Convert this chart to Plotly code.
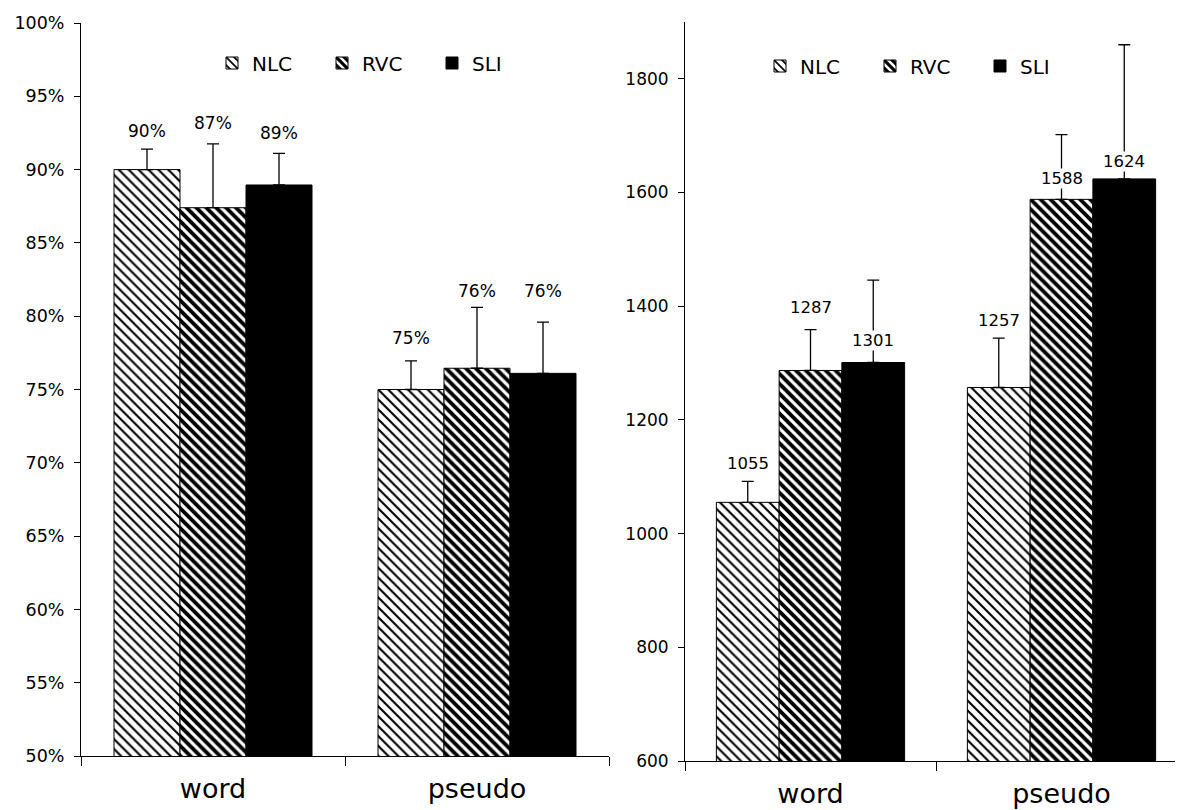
import plotly.graph_objects as go

# ---------------- data ----------------
categories = ["word", "pseudo"]
groups = ["NLC", "RVC", "SLI"]

# accuracy (%)
acc_nlc = [90.0, 75.0]
acc_rvc = [87.4, 76.45]
acc_sli = [88.95, 76.1]
acc_err_nlc = [1.4, 1.95]
acc_err_rvc = [4.35, 4.15]
acc_err_sli = [2.15, 3.5]

# reaction time (ms)
rt_nlc = [1055, 1257]
rt_rvc = [1287, 1588]
rt_sli = [1301, 1624]
rt_err_nlc = [37, 87]
rt_err_rvc = [72, 114]
rt_err_sli = [145, 236]

# label anchor positions (data units) as placed in the original
acc_label_pos = {"NLC": [92.6, 78.5], "RVC": [93.2, 81.7], "SLI": [92.5, 81.7]}
rt_label_pos = {"NLC": [1123, 1375], "RVC": [1398, 1625], "SLI": [1340, 1654]}

# ---------------- styles ----------------
FONT = "DejaVu Sans"
styles = {
    "NLC": dict(shape="\\", size=7, solidity=0.3),
    "RVC": dict(shape="\\", size=7, solidity=0.55),
    "SLI": dict(shape="", size=6, solidity=1.0),
}
fillcol = {"NLC": "white", "RVC": "white", "SLI": "black"}

acc_vals = {"NLC": acc_nlc, "RVC": acc_rvc, "SLI": acc_sli}
acc_errs = {"NLC": acc_err_nlc, "RVC": acc_err_rvc, "SLI": acc_err_sli}
rt_vals = {"NLC": rt_nlc, "RVC": rt_rvc, "SLI": rt_sli}
rt_errs = {"NLC": rt_err_nlc, "RVC": rt_err_rvc, "SLI": rt_err_sli}

fig = go.Figure()


def add_bars(vals, errs, xa, ya, legend):
    for g in groups:
        st = styles[g]
        marker = dict(color=fillcol[g], line=dict(color="black", width=1))
        if st["shape"]:
            marker["pattern"] = dict(shape=st["shape"], size=st["size"], solidity=st["solidity"],
                                     fgcolor="black", bgcolor="white", fgopacity=1,
                                     fillmode="overlay")
        fig.add_trace(go.Bar(
            x=categories, y=vals[g], name=g, marker=marker,
            xaxis=xa, yaxis=ya, legend=legend,
            error_y=dict(type="data", symmetric=False, array=errs[g],
                         arrayminus=[0] * len(errs[g]), color="black",
                         thickness=1.3, width=6),
        ))


add_bars(acc_vals, acc_errs, "x", "y", "legend")
add_bars(rt_vals, rt_errs, "x2", "y2", "legend2")

# value labels
offsets = {"NLC": -1, "RVC": 0, "SLI": 1}
for g in groups:
    for i, c in enumerate(categories):
        fig.add_annotation(x=i + offsets[g] * 0.25, y=acc_label_pos[g][i],
                           xref="x", yref="y", text=f"{acc_vals[g][i]:.0f}%",
                           showarrow=False, bgcolor="white", borderpad=0,
                           font=dict(family=FONT, size=17, color="black"))
        fig.add_annotation(x=i + offsets[g] * 0.25, y=rt_label_pos[g][i],
                           xref="x2", yref="y2", text=f"{rt_vals[g][i]}",
                           showarrow=False, bgcolor="white", borderpad=0,
                           font=dict(family=FONT, size=16.5, color="black"))

# page body adds an 8px offset; figure sized to fit the window
W, H = 1175, 802
axis_common = dict(showline=True, linecolor="black", linewidth=1, showgrid=False,
                   zeroline=False, ticks="outside", tickcolor="black", tickwidth=1,
                   automargin=False)

fig.update_layout(
    width=W, height=H, autosize=False,
    margin=dict(l=0, r=0, t=0, b=0, pad=0),
    paper_bgcolor="white", plot_bgcolor="white",
    font=dict(family=FONT, color="black"),
    barmode="group", bargap=0.25, bargroupgap=0,
    xaxis=dict(**axis_common, domain=[73 / W, 601 / W], anchor="y",
               type="category", range=[-0.5, 1.5], tickson="boundaries", ticklen=9,
               tickfont=dict(size=27), ticklabelstandoff=9),
    yaxis=dict(**axis_common, domain=[1 - 748 / H, 1 - 15 / H], anchor="x",
               range=[50, 100], tick0=50, dtick=5, ticksuffix="%", ticklen=6,
               tickfont=dict(size=17.5), ticklabelstandoff=6),
    xaxis2=dict(**axis_common, domain=[677 / W, 1.0], anchor="y2",
                type="category", range=[-0.5, 1.484], tickson="boundaries", ticklen=9,
                tickfont=dict(size=27), ticklabelstandoff=9),
    yaxis2=dict(**axis_common, domain=[1 - 753 / H, 1 - 14 / H], anchor="x2",
                range=[600, 1900], tick0=600, dtick=200, ticklen=6,
                tickfont=dict(size=17), ticklabelstandoff=6),
    legend=dict(orientation="h", x=204 / W, y=1 - 55 / H, xanchor="left", yanchor="middle",
                font=dict(size=20), bgcolor="rgba(0,0,0,0)", entrywidth=65,
                entrywidthmode="pixels", itemclick=False),
    legend2=dict(orientation="h", x=752 / W, y=1 - 58 / H, xanchor="left", yanchor="middle",
                 font=dict(size=20), bgcolor="rgba(0,0,0,0)", entrywidth=65,
                 entrywidthmode="pixels", itemclick=False),
    showlegend=True,
)

fig.write_html("out.html")
